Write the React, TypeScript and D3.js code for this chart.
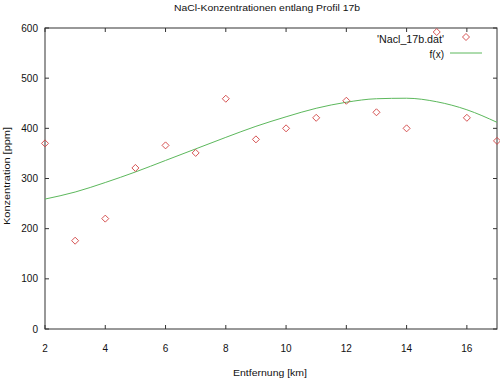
import React from "react";
import * as d3 from "d3";

const xs = [2, 3, 4, 5, 6, 7, 8, 9, 10, 11, 12, 13, 14, 15, 16, 17];
const conc = [370, 176, 220, 321, 366, 351, 459, 378, 400, 421, 455, 432, 400, 592, 421, 375];
const fitX = [2, 3, 4, 5, 6, 7, 8, 9, 10, 11, 12, 13, 14, 15, 16, 17];
const fitY = [259, 273, 292, 313, 336, 359, 382, 404, 423, 440, 452, 459, 460, 453, 437, 412];
const xTicks = [2, 4, 6, 8, 10, 12, 14, 16];
const yTicks = [0, 100, 200, 300, 400, 500, 600];

const W = 500, H = 378;
const L = 45, R = 497, T = 28, B = 329;

export default function App() {
  const x = d3.scaleLinear().domain([2, 17]).range([L, R]);
  const y = d3.scaleLinear().domain([0, 600]).range([B, T]);
  const line = d3.line<number>().x((_, i) => x(fitX[i])).y((d) => y(d)).curve(d3.curveMonotoneX);
  const font = "Liberation Sans, Arial, sans-serif";
  const axisColor = "#333";
  const red = "#d04040";
  const green = "#5cb85c";
  const textColor = "#111";
  const diamond = (cx: number, cy: number, k: string) => (
    <path key={k} d={`M${cx},${cy - 3.5}L${cx + 3.5},${cy}L${cx},${cy + 3.5}L${cx - 3.5},${cy}Z`} fill="none" stroke={red} strokeWidth={0.9} />
  );
  return (
    <svg width={W} height={H} style={{ position: "absolute", left: 0, top: 0 }} fontFamily={font} fill={textColor}>
      <rect width={W} height={H} fill="white" />
      <text x={267} y={11} textAnchor="middle" fontSize={9.5} textLength={186} lengthAdjust="spacingAndGlyphs">NaCl-Konzentrationen entlang Profil 17b</text>
      {xTicks.map((t) => (
        <g key={"x" + t}>
          <line x1={x(t)} x2={x(t)} y1={B} y2={B - 4} stroke={axisColor} />
          <line x1={x(t)} x2={x(t)} y1={T} y2={T + 4} stroke={axisColor} />
          <text x={x(t)} y={352} textAnchor="middle" fontSize={10}>{t}</text>
        </g>
      ))}
      {yTicks.map((t) => (
        <g key={"y" + t}>
          <line x1={L} x2={L + 4} y1={y(t)} y2={y(t)} stroke={axisColor} />
          <line x1={R} x2={R - 4} y1={y(t)} y2={y(t)} stroke={axisColor} />
          <text x={38} y={y(t) + 3.5} textAnchor="end" fontSize={10}>{t}</text>
        </g>
      ))}
      <rect x={L} y={T} width={R - L} height={B - T} fill="none" stroke={axisColor} />
      <path d={line(fitY) || ""} fill="none" stroke={green} strokeWidth={1} />
      {xs.map((v, i) => diamond(x(v), y(conc[i]), "p" + i))}
      <text x={444} y={42.5} textAnchor="end" fontSize={10} textLength={67} lengthAdjust="spacingAndGlyphs">'Nacl_17b.dat'</text>
      {diamond(466, 37, "leg")}
      <text x={444} y={57.5} textAnchor="end" fontSize={10}>f(x)</text>
      <line x1={450} x2={482} y1={53} y2={53} stroke={green} />
      <text x={270} y={376} textAnchor="middle" fontSize={9.5} textLength={74} lengthAdjust="spacingAndGlyphs">Entfernung [km]</text>
      <text transform={`translate(10,176) rotate(-90)`} textAnchor="middle" fontSize={9.5} textLength={98} lengthAdjust="spacingAndGlyphs">Konzentration [ppm]</text>
    </svg>
  );
}
